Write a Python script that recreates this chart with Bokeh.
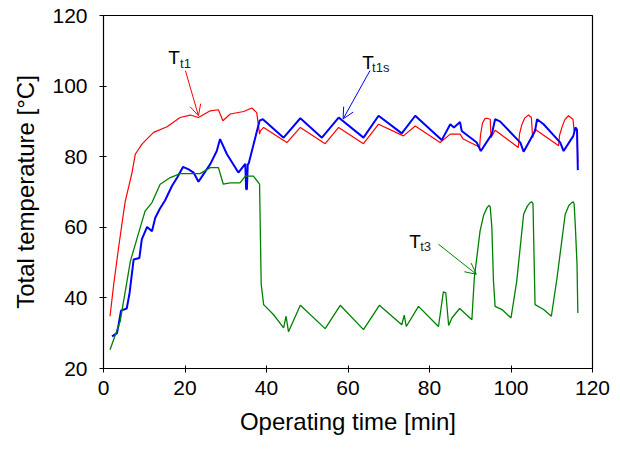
from bokeh.plotting import figure
from bokeh.models import Range1d, Arrow, OpenHead, FixedTicker
from bokeh.core.properties import value
from bokeh.embed import file_html
from bokeh.resources import INLINE

# ---- data ----
tt1_time = [1.6, 2.5, 3.7, 4.9, 5.35, 7.0, 7.8, 8.6, 9.4, 10.2, 12.3, 15.6, 18.8, 21.3, 23.3, 26.2,
            28.2, 29.3, 31.1, 34.4, 36.4, 37.6, 38.3, 38.5, 39.3, 45.0, 48.3, 54.4, 57.7, 63.8,
            67.5, 73.6, 76.5, 82.6, 85.1, 87.5, 88.3, 91.6, 92.3, 92.5, 93.0, 93.6, 94.1, 94.9,
            95.1, 96.1, 101.8, 102.1, 102.7, 103.4, 104.3, 105.0, 105.3, 105.9, 111.7, 111.9,
            112.5, 113.2, 114.1, 115.2, 115.5, 116.2, 116.4]
tt1_temp = [34.8, 43.8, 54.2, 64.0, 67.4, 75.5, 80.7, 82.1, 83.5, 84.5, 86.9, 88.5, 91.1, 91.8, 91.1, 93.0,
            93.3, 90.2, 92.1, 92.8, 93.8, 92.5, 86.4, 87.3, 88.3, 84.0, 88.3, 83.7, 88.3, 83.7,
            89.2, 85.9, 88.7, 84.0, 86.4, 86.4, 85.0, 83.1, 82.6, 86.0, 89.5, 90.8, 90.9, 90.6,
            85.4, 87.5, 82.6, 86.5, 89.2, 91.0, 91.8, 91.1, 85.4, 87.8, 83.1, 86.0,
            88.3, 90.5, 91.6, 90.6, 87.3, 87.8, 78.3]

tt1s_time = [2.1, 3.3, 3.7, 4.3, 5.7, 6.4, 7.4, 8.8, 9.4, 10.7, 11.9, 12.7, 13.9, 15.1, 16.8, 18.2,
             19.5, 20.9, 22.1, 23.3, 24.5, 26.2, 27.8, 28.6, 30.3, 33.1, 34.8, 35.0, 35.2, 35.4, 35.6,
             38.3, 39.1, 44.2, 48.3, 53.6, 57.7, 63.8, 67.5, 73.2, 76.5, 83.0, 85.1, 86.0, 87.5,
             87.9, 91.6, 92.6, 95.3, 96.1, 97.3, 102.3, 103.1, 105.9, 106.4, 108.0, 112.1, 112.9,
             115.3, 115.8, 116.2, 116.4]
tt1s_temp = [29.1, 30.0, 32.4, 36.4, 37.0, 41.4, 50.9, 51.3, 56.6, 60.1, 58.9, 62.7, 65.4, 67.6, 71.7, 74.3,
             77.1, 76.4, 75.5, 72.9, 75.0, 77.9, 81.6, 85.0, 80.7, 75.5, 78.0, 70.8, 70.8, 77.9, 77.9,
             90.2, 90.6, 85.4, 90.9, 85.4, 91.1, 85.4, 91.6, 86.6, 91.6, 84.7, 89.2, 88.3, 89.8,
             87.3, 84.0, 81.6, 86.4, 90.6, 90.0, 84.0, 81.4, 87.3, 90.6, 89.2, 84.0, 81.6,
             85.9, 88.3, 87.7, 76.2]

tt3_time = [1.6, 4.1, 6.6, 9.0, 10.2, 11.9, 13.9, 16.4, 18.8, 23.7, 26.2, 28.2, 29.4, 31.1, 33.5, 34.8,
            36.8, 38.3, 38.7, 39.3, 41.7, 44.2, 44.8, 45.4, 48.3, 54.4, 58.1, 63.8, 67.7, 73.2, 73.8,
            74.3, 77.3, 82.2, 83.4, 84.0, 84.7, 85.5, 87.4, 90.4, 91.0, 92.4, 93.3, 94.1, 94.6, 94.9,
            95.3, 95.7, 96.1, 97.8, 100.0, 101.4, 103.1, 104.0, 104.7, 105.1, 105.4, 105.6, 105.9,
            108.0, 109.9, 111.3, 113.3, 114.2, 114.9, 115.3, 115.5, 115.8, 116.2, 116.4]
tt3_temp = [25.3, 33.4, 50.4, 59.9, 64.6, 67.0, 72.2, 74.1, 75.2, 75.2, 76.9, 76.9, 72.2, 72.6, 72.6, 74.5,
            74.5, 72.2, 43.8, 38.1, 35.3, 31.5, 34.8, 30.4, 37.9, 31.3, 37.9, 31.0, 37.9, 32.4, 35.1,
            31.9, 37.6, 31.9, 41.7, 41.4, 32.2, 34.3, 37.0, 33.8, 45.7, 58.9, 63.5, 65.5, 66.2, 65.8,
            60.0, 44.7, 37.6, 36.7, 34.3, 44.7, 63.7, 66.0, 67.0, 67.2, 66.7, 55.0, 38.1,
            36.7, 34.8, 45.7, 63.7, 66.2, 67.0, 67.2, 66.5, 60.0, 49.5, 35.7]

x_ticks = [0, 20, 40, 60, 80, 100, 120]
y_ticks = [20, 40, 60, 80, 100, 120]

FONT = "Liberation Sans"

p = figure(width=620, height=450, output_backend="svg", toolbar_location=None,
           x_range=Range1d(0, 120), y_range=Range1d(20, 120),
           min_border_left=103, min_border_right=28, min_border_top=15, min_border_bottom=82)

p.xgrid.visible = False
p.ygrid.visible = False
p.outline_line_color = "black"
p.outline_line_width = 1.2
p.background_fill_color = "white"
p.border_fill_color = "white"

for ax, ticks in ((p.xaxis[0], x_ticks), (p.yaxis[0], y_ticks)):
    ax.ticker = FixedTicker(ticks=ticks)
    ax.minor_tick_line_color = None
    ax.major_tick_in = 3
    ax.major_tick_out = 4
    ax.axis_line_color = "black"
    ax.major_tick_line_color = "black"
    ax.major_label_text_font = FONT
    ax.major_label_text_font_size = "21px"
    ax.major_label_text_color = "black"
    ax.axis_label_text_font = FONT
    ax.axis_label_text_font_size = "24px"
    ax.axis_label_text_font_style = "normal"
    ax.axis_label_text_color = "black"

p.xaxis.axis_label = "Operating time [min]"
p.yaxis.axis_label = "Total temperature [\u00b0C]"
p.xaxis.major_label_standoff = 8
p.yaxis.major_label_standoff = 12
p.xaxis.axis_label_standoff = 10
p.yaxis.axis_label_standoff = 10

p.line(tt1_time, tt1_temp, line_color="#ff0000", line_width=1.2)
p.line(tt1s_time, tt1s_temp, line_color="#0000ff", line_width=2.0)
p.line(tt3_time, tt3_temp, line_color="#008000", line_width=1.3)

# annotations
labels_main = ["T", "T", "T"]
main_x = [15.9, 63.5, 75.0]
main_y = [108.1, 106.6, 56.1]
subs = ["t1", "t1s", "t3"]
sub_x = [18.8, 65.9, 77.7]
sub_y = [106.4, 105.2, 54.7]

p.text(x=main_x, y=main_y, text=labels_main, text_font=value(FONT), text_font_size="19px",
       text_align="left", text_baseline="alphabetic", text_color="black")
p.text(x=sub_x, y=sub_y, text=subs, text_font=value(FONT), text_font_size="13px",
       text_align="left", text_baseline="alphabetic", text_color="#222222")

arrows = [((20.1, 104.4), (23.3, 91.6), "#ff0000"),
          ((65.4, 104.4), (58.8, 90.7), "#0000ff"),
          ((82.2, 55.2), (91.5, 46.7), "#008000")]
for (xs, ys), (xe, ye), c in arrows:
    p.add_layout(Arrow(end=OpenHead(size=11, line_color=c, line_width=1),
                       x_start=xs, y_start=ys, x_end=xe, y_end=ye,
                       line_color=c, line_width=1))

open("out.html", "w").write(file_html(p, INLINE))
